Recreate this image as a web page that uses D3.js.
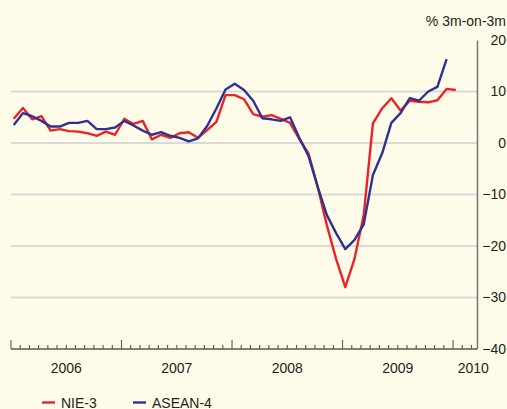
<!DOCTYPE html>
<html>
<head>
<meta charset="utf-8">
<script src="https://cdn.jsdelivr.net/npm/d3@7/dist/d3.min.js"></script>
<style>
  html, body { margin: 0; padding: 0; background: #FEFCE9; }
  svg { display: block; font-family: "Liberation Sans", Arial, Helvetica, sans-serif; }
</style>
</head>
<body>
<svg id="chart" width="507" height="409"></svg>
<script>
// Monthly data, Jan 2006 onward (month index 0 = Jan 2006)
const nie3 = [4.7, 6.8, 4.6, 5.2, 2.4, 2.7, 2.3, 2.2, 1.9, 1.4, 2.2, 1.6,
              4.7, 3.7, 4.3, 0.7, 1.6, 1.0, 1.9, 2.1, 1.0, 2.5, 4.1, 9.3,
              9.3, 8.5, 5.6, 5.1, 5.4, 4.7, 3.9, 0.8, -2.0, -8.5, -16.0, -22.5,
              -28.0, -22.5, -14.0, 3.8, 6.7, 8.7, 6.3, 8.2, 8.0, 7.9, 8.3, 10.5,
              10.3];
const asean4 = [3.5, 5.8, 5.2, 4.3, 3.2, 3.2, 3.9, 3.9, 4.3, 2.7, 2.7, 3.0,
                4.3, 3.4, 2.4, 1.6, 2.1, 1.4, 1.0, 0.3, 0.9, 3.3, 6.7, 10.4,
                11.5, 10.3, 8.2, 4.8, 4.6, 4.3, 5.0, 1.0, -2.5, -8.5, -14.0, -17.5,
                -20.6, -18.8, -15.8, -6.2, -2.0, 3.9, 5.8, 8.7, 8.2, 10.0, 10.9, 16.3];
const yearLabels = ["2006", "2007", "2008", "2009", "2010"];
const yearLabelMonth = [6, 18, 30, 42, 50.2];   // position of label, in months from Jan 2006
const yTicks = [20, 10, 0, -10, -20, -30, -40];
const gridValues = [10, 0, -10, -20, -30];
const unitLabel = "% 3m-on-3m";
const seriesNames = ["NIE-3", "ASEAN-4"];
const seriesColors = ["#EC2227", "#2E3192"];

const svg = d3.select("#chart");
const x = d3.scaleLinear().domain([0, 50.6]).range([11, 477]);
const y = d3.scaleLinear().domain([-40, 20]).range([349, 40]);
const pointOffset = 0.3;

// gridlines
svg.append("g").selectAll("line").data(gridValues).join("line")
  .attr("x1", x(0)).attr("x2", x(50.6))
  .attr("y1", d => y(d)).attr("y2", d => y(d))
  .attr("stroke", "#D9D9DD").attr("stroke-width", 2);

// right axis
const yAxis = d3.axisRight(y).tickValues(yTicks).tickSize(0).tickPadding(0);
const ga = svg.append("g").attr("transform", `translate(${x(50.6)},0)`).call(yAxis);
ga.select(".domain").attr("stroke", "#7D7B70").attr("stroke-width", 1.6);
ga.selectAll("text").attr("x", 29).attr("text-anchor", "end")
  .attr("font-size", 14).attr("fill", "#231F20")
  .attr("font-family", "'Liberation Sans', Arial, sans-serif");

svg.append("text").attr("x", 506).attr("y", 26).attr("text-anchor", "end")
  .attr("font-size", 14).attr("fill", "#231F20").text(unitLabel);

// bottom axis: monthly ticks, taller at year starts
const months = d3.range(0, 51);
const gx = svg.append("g");
gx.append("line").attr("x1", x(0)).attr("x2", x(50.6)).attr("y1", y(-40)).attr("y2", y(-40))
  .attr("stroke", "#5A584F").attr("stroke-width", 1.5);
gx.selectAll("line.tick").data(months).join("line").attr("class", "tick")
  .attr("x1", d => x(d)).attr("x2", d => x(d))
  .attr("y1", y(-40)).attr("y2", d => y(-40) - (d % 12 === 0 ? 9 : 4))
  .attr("stroke", "#5A584F").attr("stroke-width", 1.1);
gx.selectAll("text").data(yearLabels).join("text")
  .attr("x", (d, i) => x(yearLabelMonth[i])).attr("y", 373)
  .attr("text-anchor", "middle").attr("font-size", 14).attr("fill", "#231F20")
  .text(d => d);

// lines
const line = d3.line().x((d, i) => x(i + pointOffset)).y(d => y(d));
svg.append("path").datum(nie3).attr("d", line).attr("fill", "none")
  .attr("stroke", seriesColors[0]).attr("stroke-width", 2.4).attr("stroke-linejoin", "round");
svg.append("path").datum(asean4).attr("d", line).attr("fill", "none")
  .attr("stroke", seriesColors[1]).attr("stroke-width", 2.4).attr("stroke-linejoin", "round");

// legend
const legX = [42, 133];
const lg = svg.append("g");
seriesNames.forEach((name, i) => {
  lg.append("line").attr("x1", legX[i]).attr("x2", legX[i] + 13).attr("y1", 402.5).attr("y2", 402.5)
    .attr("stroke", seriesColors[i]).attr("stroke-width", 2.4);
  lg.append("text").attr("x", legX[i] + 19).attr("y", 407.5).attr("font-size", 14)
    .attr("fill", "#231F20").text(name);
});
</script>
</body>
</html>
